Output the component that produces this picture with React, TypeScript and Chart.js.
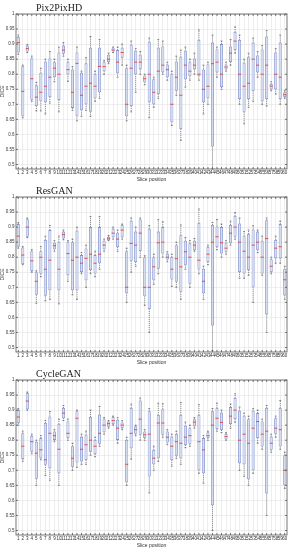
import React, { useEffect, useRef } from 'react';
import { Chart, registerables } from 'chart.js';
Chart.register(...registerables);

const SLICES = ['1','2','3','4','5','6','7','8','9','10','11','12','13','14','15','16','17','18','19','20','21','22','23','24','25','26','27','28','29','30','31','32','33','34','35','36','37','38','39','40','41','42','43','44','45','46','47','48','49','50','51','52','53','54','55','56','57','58','59','60'];
const Y_TICKS = [0.5, 0.55, 0.6, 0.65, 0.7, 0.75, 0.8, 0.85, 0.9, 0.95, 1];

// Pix2PixHD
const P2P_MIN = [0.866,0.655,0.872,0.71,0.678,0.678,0.668,0.704,0.775,0.675,0.86,0.776,0.68,0.645,0.66,0.68,0.66,0.71,0.72,0.8,0.835,0.872,0.79,0.83,0.645,0.675,0.74,0.8,0.765,0.655,0.69,0.72,0.8,0.78,0.63,0.73,0.58,0.757,0.78,0.8,0.78,0.668,0.7,0.485,0.79,0.75,0.81,0.83,0.87,0.7,0.635,0.69,0.71,0.79,0.7,0.694,0.745,0.734,0.7,0.72];
const P2P_Q1 = [0.872,0.66,0.875,0.715,0.694,0.71,0.707,0.724,0.79,0.714,0.868,0.8,0.688,0.66,0.68,0.7,0.675,0.72,0.74,0.81,0.84,0.875,0.803,0.855,0.66,0.694,0.8,0.816,0.773,0.707,0.7,0.734,0.806,0.79,0.64,0.745,0.618,0.783,0.793,0.816,0.793,0.707,0.72,0.56,0.806,0.757,0.816,0.84,0.88,0.717,0.675,0.717,0.745,0.806,0.71,0.717,0.75,0.75,0.717,0.724];
const P2P_MED = [0.905,0.743,0.885,0.785,0.724,0.74,0.76,0.79,0.82,0.8,0.88,0.815,0.74,0.836,0.73,0.76,0.77,0.76,0.826,0.825,0.85,0.88,0.84,0.872,0.7,0.82,0.84,0.84,0.785,0.8,0.74,0.81,0.83,0.815,0.7,0.79,0.73,0.83,0.81,0.83,0.8,0.75,0.76,0.835,0.84,0.8,0.824,0.87,0.91,0.8,0.76,0.77,0.85,0.83,0.8,0.83,0.76,0.8,0.79,0.732];
const P2P_Q3 = [0.924,0.826,0.895,0.853,0.763,0.805,0.842,0.852,0.84,0.872,0.895,0.84,0.816,0.872,0.805,0.836,0.888,0.8,0.888,0.84,0.865,0.888,0.88,0.888,0.82,0.898,0.878,0.865,0.796,0.908,0.783,0.888,0.892,0.832,0.8,0.842,0.858,0.878,0.84,0.852,0.914,0.816,0.832,0.905,0.882,0.9,0.832,0.892,0.94,0.914,0.838,0.858,0.905,0.862,0.882,0.925,0.768,0.872,0.905,0.74];
const P2P_MAX = [0.93,0.83,0.898,0.86,0.773,0.82,0.85,0.875,0.85,0.89,0.905,0.85,0.825,0.89,0.81,0.855,0.925,0.81,0.915,0.845,0.87,0.89,0.89,0.9,0.83,0.91,0.885,0.875,0.8,0.92,0.79,0.915,0.91,0.84,0.81,0.86,0.88,0.89,0.85,0.87,0.947,0.83,0.84,0.93,0.89,0.91,0.84,0.915,0.957,0.93,0.85,0.87,0.92,0.875,0.895,0.945,0.775,0.885,0.93,0.745];

// ResGAN
const RES_MIN = [0.83,0.775,0.865,0.75,0.647,0.735,0.655,0.66,0.82,0.645,0.858,0.72,0.675,0.66,0.745,0.7,0.745,0.735,0.76,0.82,0.855,0.86,0.82,0.86,0.65,0.75,0.77,0.8,0.64,0.55,0.71,0.745,0.8,0.785,0.703,0.7,0.66,0.76,0.7,0.82,0.745,0.66,0.775,0.49,0.825,0.8,0.81,0.84,0.86,0.73,0.73,0.74,0.65,0.815,0.74,0.55,0.745,0.78,0.78,0.66];
const RES_Q1 = [0.835,0.777,0.868,0.754,0.675,0.745,0.672,0.69,0.826,0.69,0.862,0.74,0.69,0.69,0.751,0.723,0.757,0.746,0.78,0.826,0.857,0.866,0.834,0.866,0.68,0.788,0.784,0.82,0.67,0.628,0.723,0.762,0.812,0.792,0.726,0.718,0.685,0.773,0.712,0.823,0.759,0.68,0.784,0.573,0.834,0.812,0.818,0.846,0.868,0.751,0.746,0.757,0.7,0.823,0.746,0.61,0.751,0.796,0.796,0.673];
const RES_MED = [0.87,0.807,0.9,0.788,0.72,0.8,0.76,0.79,0.838,0.76,0.875,0.812,0.79,0.8,0.78,0.796,0.81,0.78,0.81,0.84,0.863,0.88,0.86,0.89,0.7,0.846,0.84,0.88,0.7,0.7,0.768,0.848,0.85,0.8,0.76,0.795,0.768,0.818,0.8,0.84,0.79,0.72,0.81,0.85,0.868,0.848,0.83,0.88,0.9,0.85,0.82,0.8,0.84,0.85,0.8,0.862,0.77,0.83,0.835,0.725];
const RES_Q3 = [0.91,0.832,0.926,0.82,0.75,0.82,0.857,0.89,0.848,0.85,0.885,0.85,0.85,0.888,0.807,0.829,0.9,0.807,0.9,0.855,0.868,0.895,0.881,0.907,0.82,0.921,0.885,0.925,0.8,0.895,0.8,0.885,0.9,0.812,0.801,0.84,0.873,0.855,0.846,0.855,0.914,0.762,0.834,0.907,0.902,0.9,0.848,0.907,0.937,0.912,0.87,0.877,0.892,0.885,0.855,0.923,0.793,0.857,0.91,0.762];
const RES_MAX = [0.915,0.835,0.93,0.825,0.755,0.835,0.87,0.905,0.855,0.87,0.89,0.855,0.86,0.9,0.815,0.84,0.935,0.82,0.935,0.86,0.872,0.9,0.89,0.91,0.83,0.93,0.9,0.93,0.805,0.905,0.81,0.925,0.918,0.818,0.81,0.85,0.907,0.865,0.855,0.862,0.96,0.77,0.84,0.915,0.925,0.91,0.855,0.92,0.948,0.93,0.885,0.89,0.905,0.89,0.87,0.93,0.8,0.87,0.92,0.77];

// CycleGAN
const CYC_MIN = [0.85,0.73,0.9,0.755,0.65,0.735,0.683,0.667,0.795,0.65,0.865,0.8,0.7,0.71,0.72,0.72,0.75,0.745,0.78,0.82,0.84,0.85,0.79,0.835,0.65,0.737,0.815,0.8,0.8,0.625,0.7,0.73,0.81,0.785,0.714,0.74,0.72,0.775,0.78,0.84,0.69,0.657,0.8,0.5,0.83,0.825,0.8,0.84,0.86,0.7,0.68,0.65,0.69,0.79,0.77,0.55,0.76,0.81,0.77,0.64];
const CYC_Q1 = [0.857,0.737,0.903,0.762,0.672,0.74,0.718,0.707,0.801,0.69,0.873,0.807,0.712,0.726,0.729,0.734,0.762,0.754,0.788,0.826,0.845,0.854,0.801,0.84,0.66,0.773,0.821,0.818,0.807,0.679,0.72,0.74,0.818,0.792,0.734,0.748,0.74,0.784,0.788,0.846,0.7,0.69,0.807,0.584,0.837,0.834,0.803,0.854,0.87,0.723,0.72,0.67,0.7,0.807,0.779,0.623,0.768,0.821,0.779,0.65];
const CYC_MED = [0.877,0.78,0.93,0.795,0.757,0.768,0.735,0.823,0.815,0.77,0.89,0.823,0.74,0.873,0.77,0.785,0.8,0.78,0.823,0.85,0.855,0.865,0.84,0.85,0.72,0.823,0.835,0.87,0.818,0.82,0.74,0.857,0.857,0.81,0.78,0.795,0.79,0.81,0.815,0.86,0.795,0.768,0.815,0.85,0.873,0.859,0.812,0.88,0.9,0.8,0.82,0.79,0.84,0.862,0.82,0.83,0.79,0.84,0.835,0.7];
const CYC_Q3 = [0.9,0.823,0.957,0.814,0.795,0.807,0.857,0.879,0.829,0.854,0.907,0.862,0.78,0.896,0.812,0.818,0.877,0.801,0.885,0.87,0.862,0.877,0.868,0.859,0.801,0.907,0.846,0.932,0.829,0.896,0.768,0.884,0.903,0.829,0.812,0.821,0.884,0.848,0.84,0.87,0.884,0.807,0.826,0.896,0.907,0.892,0.821,0.91,0.94,0.898,0.881,0.87,0.898,0.89,0.862,0.907,0.812,0.873,0.907,0.75];
const CYC_MAX = [0.905,0.83,0.96,0.82,0.8,0.815,0.865,0.895,0.835,0.87,0.915,0.87,0.79,0.9,0.82,0.83,0.9,0.81,0.912,0.875,0.865,0.88,0.875,0.865,0.81,0.92,0.85,0.94,0.835,0.905,0.78,0.923,0.921,0.835,0.82,0.83,0.925,0.86,0.85,0.875,0.918,0.815,0.83,0.905,0.923,0.9,0.825,0.92,0.954,0.91,0.89,0.88,0.905,0.9,0.87,0.915,0.82,0.88,0.932,0.76];

const PANELS = [
  { title: 'Pix2PixHD', min: P2P_MIN, q1: P2P_Q1, med: P2P_MED, q3: P2P_Q3, max: P2P_MAX },
  { title: 'ResGAN', min: RES_MIN, q1: RES_Q1, med: RES_MED, q3: RES_Q3, max: RES_MAX },
  { title: 'CycleGAN', min: CYC_MIN, q1: CYC_Q1, med: CYC_MED, q3: CYC_Q3, max: CYC_MAX },
];

const W = 289;
const H = 183;

function BoxPanel({ panel }: { panel: any }) {
  const ref = useRef<HTMLCanvasElement | null>(null);
  useEffect(() => {
    const canvas = ref.current;
    if (!canvas) return;
    const boxPlugin = {
      id: 'boxExtras',
      afterDatasetsDraw(chart: any) {
        const ctx = chart.ctx;
        const xs = chart.scales.x;
        const ys = chart.scales.y;
        const meta = chart.getDatasetMeta(0);
        ctx.save();
        for (let i = 0; i < SLICES.length; i++) {
          const el = meta.data[i];
          const x = xs.getPixelForValue(i);
          const hw = (el && el.width ? el.width : 3) / 2;
          const yMin = ys.getPixelForValue(panel.min[i]);
          const yQ1 = ys.getPixelForValue(panel.q1[i]);
          const yQ3 = ys.getPixelForValue(panel.q3[i]);
          const yMax = ys.getPixelForValue(panel.max[i]);
          const yMed = ys.getPixelForValue(panel.med[i]);
          ctx.strokeStyle = '#555';
          ctx.lineWidth = 0.7;
          ctx.setLineDash([1, 1]);
          ctx.beginPath();
          ctx.moveTo(x, yQ3);
          ctx.lineTo(x, yMax);
          ctx.moveTo(x, yQ1);
          ctx.lineTo(x, yMin);
          ctx.stroke();
          ctx.setLineDash([]);
          ctx.beginPath();
          ctx.moveTo(x - hw * 0.6, yMax);
          ctx.lineTo(x + hw * 0.6, yMax);
          ctx.moveTo(x - hw * 0.6, yMin);
          ctx.lineTo(x + hw * 0.6, yMin);
          ctx.stroke();
          ctx.strokeStyle = '#e0403a';
          ctx.lineWidth = 0.9;
          ctx.beginPath();
          ctx.moveTo(x - hw, yMed);
          ctx.lineTo(x + hw, yMed);
          ctx.stroke();
        }
        ctx.restore();
      },
      afterDraw(chart: any) {
        const ctx = chart.ctx;
        const a = chart.chartArea;
        const xs = chart.scales.x;
        const ys = chart.scales.y;
        ctx.save();
        ctx.strokeStyle = '#555';
        ctx.lineWidth = 0.8;
        ctx.strokeRect(a.left, a.top, a.right - a.left, a.bottom - a.top);
        ctx.beginPath();
        for (let i = 0; i < SLICES.length; i++) {
          const x = xs.getPixelForValue(i);
          ctx.moveTo(x, a.top);
          ctx.lineTo(x, a.top + 2);
          ctx.moveTo(x, a.bottom);
          ctx.lineTo(x, a.bottom - 2);
        }
        for (const v of Y_TICKS) {
          const y = ys.getPixelForValue(v);
          ctx.moveTo(a.left, y);
          ctx.lineTo(a.left + 2, y);
          ctx.moveTo(a.right, y);
          ctx.lineTo(a.right - 2, y);
        }
        ctx.stroke();
        ctx.fillStyle = '#222';
        ctx.font = '10px "Liberation Serif", serif';
        ctx.textBaseline = 'alphabetic';
        ctx.textAlign = 'left';
        ctx.fillText(panel.title, 36, 11);
        ctx.restore();
      },
    };
    const chart = new Chart(canvas, {
      type: 'bar',
      data: {
        labels: SLICES,
        datasets: [
          {
            data: panel.q1.map((v: number, i: number) => [v, panel.q3[i]]),
            backgroundColor: 'rgba(205,213,240,0.75)',
            borderColor: '#7f8fcc',
            borderWidth: 0.8,
            borderSkipped: false,
            barPercentage: 0.68,
            categoryPercentage: 1,
          },
        ],
      },
      options: {
        animation: false,
        responsive: false,
        devicePixelRatio: 1,
        layout: { padding: { top: 14, right: 2, left: 0, bottom: 0 } },
        plugins: { legend: { display: false }, tooltip: { enabled: false }, title: { display: false } },
        scales: {
          x: {
            offset: true,
            grid: { offset: false, color: '#e2e2e2', lineWidth: 0.6, drawTicks: false },
            border: { display: false },
            ticks: {
              autoSkip: false,
              maxRotation: 0,
              minRotation: 0,
              padding: 1.5,
              color: '#333',
              font: { size: 4.5, family: '"Liberation Sans", sans-serif' },
            },
            title: { display: true, text: 'Slice position', color: '#333', padding: 0, font: { size: 5, family: '"Liberation Sans", sans-serif' } },
            afterFit: (s: any) => { s.height = 14; },
          },
          y: {
            min: 0.485,
            max: 1,
            afterBuildTicks: (s: any) => { s.ticks = Y_TICKS.map((v) => ({ value: v })); },
            grid: { color: '#e2e2e2', lineWidth: 0.6, drawTicks: false },
            border: { display: false },
            ticks: {
              padding: 1.5,
              color: '#333',
              font: { size: 4.5, family: '"Liberation Sans", sans-serif' },
              callback: (v: any) => String(Number(Number(v).toFixed(2))),
            },
            title: { display: true, text: 'DICE', color: '#333', padding: 0, font: { size: 5, family: '"Liberation Sans", sans-serif' } },
            afterFit: (s: any) => { s.width = 16; },
          },
        },
      },
      plugins: [boxPlugin],
    } as any);
    return () => chart.destroy();
  }, [panel]);
  return <canvas ref={ref} width={W} height={H} style={{ display: 'block', width: W, height: H }} />;
}

export default function App() {
  return (
    <div style={{ position: 'absolute', left: 0, top: 0, width: W, height: 550, background: '#fff' }}>
      {PANELS.map((p) => (
        <BoxPanel key={p.title} panel={p} />
      ))}
    </div>
  );
}
